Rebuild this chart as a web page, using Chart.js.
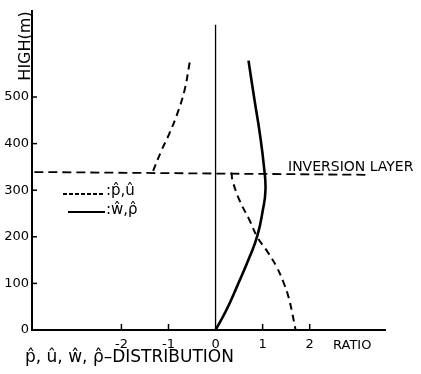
<!DOCTYPE html>
<html>
<head>
<meta charset="utf-8">
<script src="https://cdn.jsdelivr.net/npm/chart.js@4"></script>
<style>
  html, body { margin: 0; padding: 0; background: #fff; }
  #wrap { width: 421px; height: 374px; position: relative; }
</style>
</head>
<body>
<div id="wrap"><canvas id="perfil"></canvas></div>
<script>
// valores
const alturasPUArriba = [574, 514, 465, 422, 385, 338];
const ratioPUArriba   = [-0.55, -0.66, -0.81, -0.98, -1.15, -1.34];

const alturasPUAbajo = [338, 321, 278, 236, 199, 167, 135, 103, 71, 36, 0];
const ratioPUAbajo   = [0.34, 0.36, 0.51, 0.72, 0.89, 1.11, 1.30, 1.44, 1.55, 1.63, 1.70];

const alturasWR = [0, 43, 92, 156, 203, 255, 300, 349, 422, 492, 578];
const ratioWR   = [0, 0.23, 0.45, 0.72, 0.89, 1.0, 1.06, 1.03, 0.94, 0.83, 0.70];

const inversionAltura = [339, 333];
const inversionRatio  = [-3.85, 3.28];

const ejeCeroAltura = [0, 655];

const ticksX = [-2, -1, 0, 1, 2];
const ticksY = [0, 100, 200, 300, 400, 500];

const fuente = "'DejaVu Sans', sans-serif";

function puntos(xs, ys) {
    return xs.map((x, i) => ({ x: x, y: ys[i] }));
}

// marcas hacia dentro y textos sueltos
const extras = {
    id: 'extras',
    afterDraw(chart) {
        const ctx = chart.ctx;
        const sx = chart.scales.x, sy = chart.scales.y;
        const area = chart.chartArea;
        ctx.save();
        ctx.strokeStyle = '#000';
        ctx.lineWidth = 1.5;
        ticksX.forEach(v => {
            if (v === 0) return;
            const px = sx.getPixelForValue(v);
            ctx.beginPath();
            ctx.moveTo(px, area.bottom);
            ctx.lineTo(px, area.bottom - 6);
            ctx.stroke();
        });
        ticksY.forEach(v => {
            if (v === 0) return;
            const py = sy.getPixelForValue(v);
            ctx.beginPath();
            ctx.moveTo(area.left, py);
            ctx.lineTo(area.left + 5, py);
            ctx.stroke();
        });

        // leyenda
        ctx.lineWidth = 1.8;
        ctx.setLineDash([4, 2]);
        ctx.beginPath();
        ctx.moveTo(63, 194);
        ctx.lineTo(105, 194);
        ctx.stroke();
        ctx.setLineDash([]);
        ctx.beginPath();
        ctx.moveTo(68, 212);
        ctx.lineTo(105, 212);
        ctx.stroke();

        ctx.fillStyle = '#000';
        ctx.textBaseline = 'middle';
        ctx.textAlign = 'left';
        ctx.font = '15px ' + fuente;
        ctx.fillText(':p\u0302,u\u0302', 106, 191);
        ctx.fillText(':w\u0302,\u03C1\u0302', 106, 210);

        ctx.font = '14px ' + fuente;
        ctx.fillText('INVERSION LAYER', 288, 167);

        ctx.font = '13px ' + fuente;
        ctx.fillText('RATIO', 333, 346);

        ctx.font = '17px ' + fuente;
        ctx.fillText('p\u0302, u\u0302, w\u0302, \u03C1\u0302\u2013DISTRIBUTION', 25, 358);

        ctx.translate(26, 46);
        ctx.rotate(-Math.PI / 2);
        ctx.textAlign = 'center';
        ctx.font = '16px ' + fuente;
        ctx.fillText('HIGH(m)', 0, 0);
        ctx.restore();
    }
};

const lineaBase = {
    showLine: true,
    pointRadius: 0,
    borderColor: '#000',
    backgroundColor: '#000',
    fill: false
};

new Chart(document.getElementById('perfil'), {
    type: 'scatter',
    data: {
        datasets: [
            Object.assign({}, lineaBase, {
                label: 'p,u arriba',
                data: puntos(ratioPUArriba, alturasPUArriba),
                borderWidth: 2,
                borderDash: [7, 5],
                tension: 0.4
            }),
            Object.assign({}, lineaBase, {
                label: 'p,u abajo',
                data: puntos(ratioPUAbajo, alturasPUAbajo),
                borderWidth: 2,
                borderDash: [7, 5],
                tension: 0.4
            }),
            Object.assign({}, lineaBase, {
                label: 'w,rho',
                data: puntos(ratioWR, alturasWR),
                borderWidth: 2.6,
                tension: 0.5
            }),
            Object.assign({}, lineaBase, {
                label: 'inversion',
                data: puntos(inversionRatio, inversionAltura),
                borderWidth: 1.8,
                borderDash: [9, 5]
            }),
            Object.assign({}, lineaBase, {
                label: 'cero',
                data: puntos([0, 0], ejeCeroAltura),
                borderWidth: 1.3
            })
        ]
    },
    options: {
        responsive: true,
        maintainAspectRatio: false,
        animation: false,
        layout: { padding: { top: 10, right: 36, left: 0, bottom: 0 } },
        plugins: {
            legend: { display: false },
            tooltip: { enabled: false }
        },
        scales: {
            x: {
                type: 'linear',
                min: -3.9,
                max: 3.6,
                afterBuildTicks: s => { s.ticks = ticksX.map(v => ({ value: v })); },
                afterFit: s => { s.height = 44; },
                grid: { display: false, drawTicks: false },
                border: { display: true, color: '#000', width: 2 },
                ticks: { color: '#000', padding: 7, font: { family: fuente, size: 13 } }
            },
            y: {
                type: 'linear',
                min: 0,
                max: 685,
                afterBuildTicks: s => { s.ticks = ticksY.map(v => ({ value: v })); },
                afterFit: s => { s.width = 32; },
                grid: { display: false, drawTicks: false },
                border: { display: true, color: '#000', width: 2 },
                ticks: { color: '#000', padding: 3, font: { family: fuente, size: 13 } }
            }
        }
    },
    plugins: [extras]
});
</script>
</body>
</html>
